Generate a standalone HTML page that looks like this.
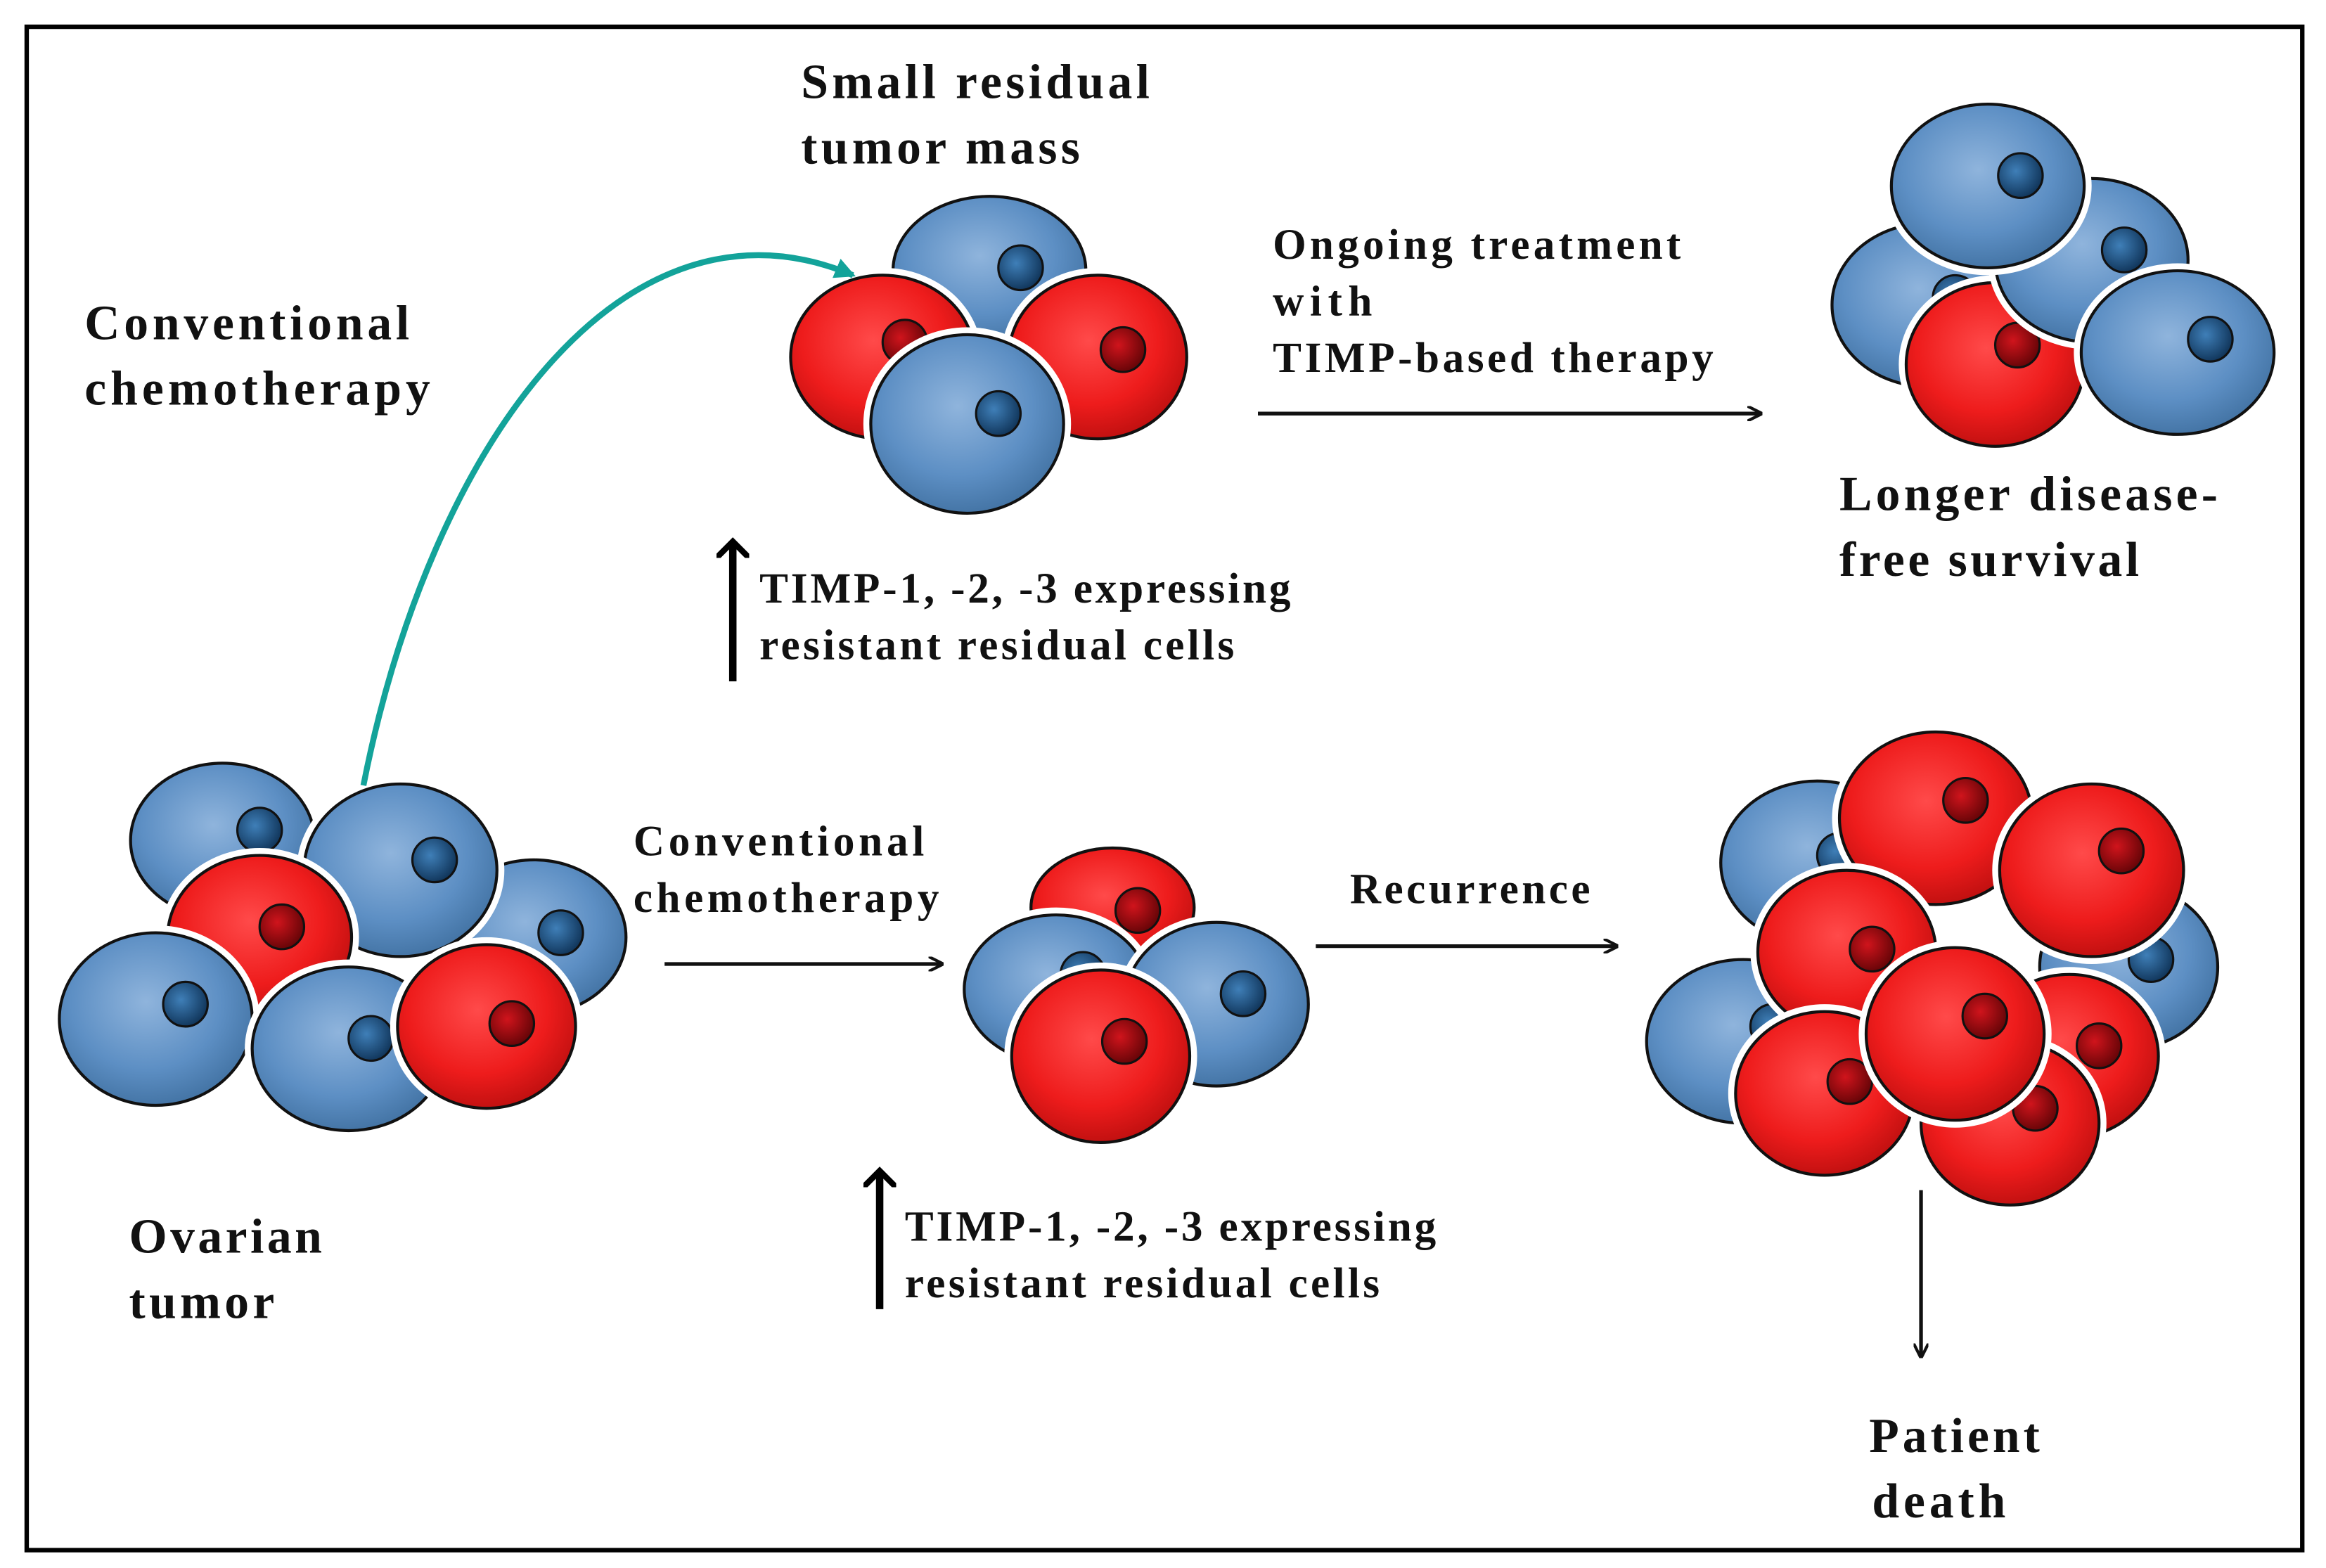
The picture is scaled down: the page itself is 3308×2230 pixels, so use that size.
<!DOCTYPE html>
<html><head><meta charset="utf-8"><style>
html,body{margin:0;padding:0;background:#fff;}
svg{display:block;}
text{font-family:"Liberation Serif",serif;font-weight:bold;fill:#111;}
</style></head><body>
<svg width="3308" height="2230" viewBox="0 0 1568 1054" preserveAspectRatio="none" xmlns="http://www.w3.org/2000/svg">
<defs>
<radialGradient id="bl" cx="0.45" cy="0.4" r="0.65">
<stop offset="0" stop-color="#8fb4dc"/><stop offset="0.6" stop-color="#5d8fc4"/><stop offset="1" stop-color="#3f6f9f"/></radialGradient>
<radialGradient id="rd" cx="0.45" cy="0.4" r="0.65">
<stop offset="0" stop-color="#ff4a4a"/><stop offset="0.6" stop-color="#ee1c1c"/><stop offset="1" stop-color="#b80e0e"/></radialGradient>
<radialGradient id="nb" cx="0.4" cy="0.4" r="0.6"><stop offset="0" stop-color="#3f7fb8"/><stop offset="1" stop-color="#12385e"/></radialGradient>
<radialGradient id="nr" cx="0.4" cy="0.4" r="0.6"><stop offset="0" stop-color="#d0141c"/><stop offset="1" stop-color="#6a0508"/></radialGradient>
<marker id="ah" markerWidth="10" markerHeight="10" refX="9" refY="5" orient="auto" markerUnits="userSpaceOnUse"><path d="M0,0 L10,5 L0,10" fill="none" stroke="#111" stroke-width="2"/></marker>
<marker id="aht" markerWidth="14" markerHeight="14" refX="12" refY="7" orient="auto" markerUnits="userSpaceOnUse"><path d="M0,0 L14,7 L0,14 Z" fill="#13a39a"/></marker>
<marker id="ahk" markerWidth="22" markerHeight="22" refX="11" refY="11" orient="auto" markerUnits="userSpaceOnUse"><path d="M0,0 L11,11 L0,22" fill="none" stroke="#000" stroke-width="4"/></marker>
</defs>
<rect x="18" y="18" width="1534" height="1024" fill="#fff" stroke="#000" stroke-width="3"/>
<g id="cells"></g>
<script><![CDATA[
var cells=[
['b',667,182,65,50,688,180],['r',595,240,62,55,610,230],['r',740,240,60,55,757,235],['b',652,285,65,60,673,278],
['b',1300,205,65,55,1318,200],['r',1345,245,60,55,1360,232],['b',1410,175,65,55,1432,168],['b',1340,125,65,55,1362,118],['b',1468,237,65,55,1490,228],
['b',150,565,62,52,175,558],['b',360,630,62,52,378,627],['b',270,585,65,58,293,578],['r',175,630,62,55,190,623],['b',105,685,65,58,125,675],['b',235,705,65,55,250,698],['r',328,690,60,55,345,688],
['r',750,610,55,40,767,612],['b',712,665,62,50,730,655],['b',820,675,62,55,838,668],['r',742,710,60,58,758,700],
['b',1225,580,65,55,1240,575],['b',1175,700,65,55,1195,690],['b',1435,650,60,55,1450,645],['r',1305,550,65,58,1325,538],['r',1410,585,62,58,1430,572],['r',1245,640,60,55,1262,638],['r',1395,710,60,55,1415,703],['r',1230,735,60,55,1247,727],['r',1355,755,60,55,1372,745],['r',1318,695,60,58,1338,683]
];
var g=document.getElementById('cells'),s='';
cells.forEach(function(c){var t=c[0]=='b';
s+='<ellipse cx="'+c[1]+'" cy="'+c[2]+'" rx="'+(c[3]+5)+'" ry="'+(c[4]+5)+'" fill="#fff"/>';
s+='<ellipse cx="'+c[1]+'" cy="'+c[2]+'" rx="'+c[3]+'" ry="'+c[4]+'" fill="url(#'+(t?'bl':'rd')+')" stroke="#111" stroke-width="2"/>';
s+='<circle cx="'+c[5]+'" cy="'+c[6]+'" r="15" fill="url(#'+(t?'nb':'nr')+')" stroke="#111" stroke-width="1.5"/>';});
g.innerHTML=s;
]]></script>
<path d="M245,528 C290,300 420,120 575,185" fill="none" stroke="#13a39a" stroke-width="4" marker-end="url(#aht)"/>
<line x1="848" y1="278" x2="1187" y2="278" stroke="#111" stroke-width="2.5" marker-end="url(#ah)"/>
<line x1="448" y1="648" x2="635" y2="648" stroke="#111" stroke-width="2.5" marker-end="url(#ah)"/>
<line x1="887" y1="636" x2="1090" y2="636" stroke="#111" stroke-width="2.5" marker-end="url(#ah)"/>
<line x1="1295" y1="800" x2="1295" y2="912" stroke="#111" stroke-width="2.5" marker-end="url(#ah)"/>
<line x1="494" y1="458" x2="494" y2="364" stroke="#000" stroke-width="5" marker-end="url(#ahk)"/>
<line x1="593" y1="880" x2="593" y2="787" stroke="#000" stroke-width="5" marker-end="url(#ahk)"/>
<g font-size="33" lengthAdjust="spacingAndGlyphs">
<text x="540" y="66" textLength="235">Small residual</text><text x="540" y="110" textLength="188">tumor mass</text>
<text x="57" y="228" textLength="219">Conventional</text><text x="57" y="272" textLength="233">chemotherapy</text>
<text x="1240" y="343" textLength="255">Longer disease-</text><text x="1240" y="387" textLength="202">free survival</text>
<text x="87" y="842" textLength="130">Ovarian</text><text x="87" y="886" textLength="98">tumor</text>
<text x="1260" y="976" textLength="115">Patient</text><text x="1262" y="1020" textLength="90">death</text>
</g>
<g font-size="29">
<text x="858" y="174" textLength="275">Ongoing treatment</text><text x="858" y="212" textLength="67">with</text><text x="858" y="250" textLength="297">TIMP-based therapy</text>
<text x="512" y="405" textLength="358">TIMP-1, -2, -3 expressing</text><text x="512" y="443" textLength="320">resistant residual cells</text>
<text x="427" y="575" textLength="196">Conventional</text><text x="427" y="613" textLength="206">chemotherapy</text>
<text x="910" y="607" textLength="162">Recurrence</text>
<text x="610" y="834" textLength="358">TIMP-1, -2, -3 expressing</text><text x="610" y="872" textLength="320">resistant residual cells</text>
</g>
</svg>
</body></html>
